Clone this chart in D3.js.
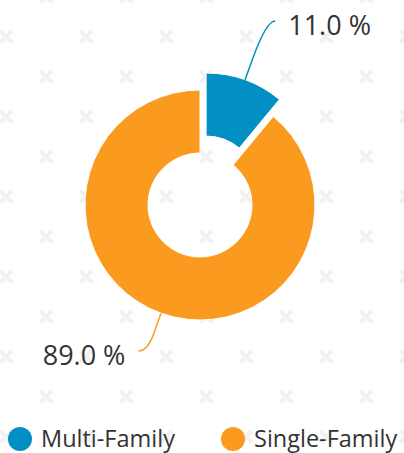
<!DOCTYPE html>
<html>
<head>
<meta charset="utf-8">
<script src="https://cdn.jsdelivr.net/npm/d3@7"></script>
<style>
  html, body { margin: 0; padding: 0; background: #fff; }
  svg { display: block; font-family: "Open Sans", sans-serif; }
</style>
</head>
<body>
<svg id="chart" width="404" height="453"></svg>
<script>
// ---- data ----
const categories = ["Multi-Family", "Single-Family"];
const values = [11.0, 89.0];
const labels = ["11.0 %", "89.0 %"];
const colors = ["#028fc4", "#fa9b20"];
const sliced = [true, false];

// ---- layout ----
const W = 404, H = 453;
const cx = 200, cy = 205, R = 115, r0 = 52, explode = 18;
const svg = d3.select("#chart");

// watermark crosses
const wm = svg.append("g").attr("stroke", "#f1f1f1").attr("stroke-width", 4).attr("stroke-linecap", "butt");
for (let row = -1; row < 13; row++) {
  const y = 36.7 + row * 40;
  const off = (row % 2 === 0) ? 6 : 46;
  for (let x = off; x < W + 20; x += 80) {
    const s = 6;
    wm.append("path").attr("d", `M${x - s},${y - s}L${x + s},${y + s}M${x - s},${y + s}L${x + s},${y - s}`);
  }
}

const pie = d3.pie().sort(null).value(d => d)(values);
const arc = d3.arc().innerRadius(r0).outerRadius(R);

const g = svg.append("g").attr("transform", `translate(${cx},${cy})`);
pie.forEach((p, i) => {
  const mid = (p.startAngle + p.endAngle) / 2;
  const ox = sliced[i] ? explode * Math.sin(mid) : 0;
  const oy = sliced[i] ? -explode * Math.cos(mid) : 0;
  g.append("path")
    .attr("d", arc(p))
    .attr("transform", `translate(${ox},${oy})`)
    .attr("fill", colors[i])
    .attr("stroke", "#fff")
    .attr("stroke-width", 1);

  // connector & label
  const sx = Math.sin(mid), sy = -Math.cos(mid);
  const p0 = [ox + R * sx, oy + R * sy];
  const p1 = [ox + (R + 22) * sx, oy + (R + 22) * sy];
  const endY = sy < 0 ? -184 : 146;          // label line height relative to center
  const t = (endY - oy) / sy;
  const ctrl = [ox + t * sx, endY];
  const dir = sx > 0 ? 1 : -1;
  const end = [ctrl[0] + dir * 9, endY];
  g.append("path")
    .attr("d", `M${p0[0]},${p0[1]}L${p1[0]},${p1[1]}Q${ctrl[0]},${ctrl[1]} ${end[0]},${end[1]}`)
    .attr("fill", "none")
    .attr("stroke", colors[i])
    .attr("stroke-width", 1.5);
  g.append("text")
    .attr("x", end[0] + dir * 13)
    .attr("y", endY + 14)
    .attr("text-anchor", dir > 0 ? "start" : "end")
    .attr("font-size", 27)
    .attr("fill", "#333")
    .text(labels[i]);
});

// legend
const legendX = [20, 233];
const lg = svg.append("g");
categories.forEach((c, i) => {
  lg.append("circle").attr("cx", legendX[i]).attr("cy", 439).attr("r", 12).attr("fill", colors[i]);
  lg.append("text")
    .attr("x", legendX[i] + 21)
    .attr("y", 447)
    .attr("font-size", 23.5)
    .attr("fill", "#333")
    .text(c);
});
</script>
</body>
</html>
